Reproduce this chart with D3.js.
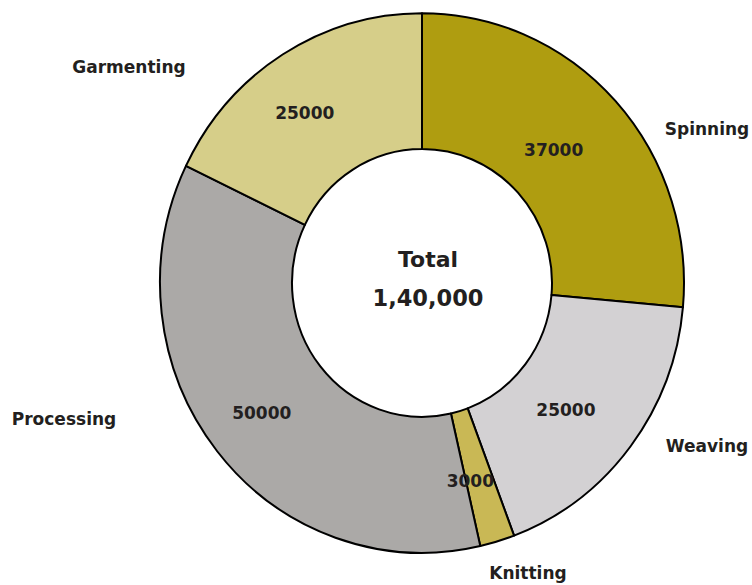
<!DOCTYPE html>
<html>
<head>
<meta charset="utf-8">
<script src="https://cdn.jsdelivr.net/npm/d3@7"></script>
<style>
  html, body { margin: 0; padding: 0; background: #ffffff; }
  svg text { font-family: "DejaVu Sans", Verdana, sans-serif; font-weight: bold; fill: #231f20; }
</style>
</head>
<body>
<svg id="chart" width="752" height="585"></svg>
<script>
// Employment by segment of the textile value chain
const categories = ["Spinning", "Weaving", "Knitting", "Processing", "Garmenting"];
const values = [37000, 25000, 3000, 50000, 25000];
const colors = ["#af9d10", "#d3d1d3", "#c9b855", "#aba9a7", "#d6ce89"];
const totalLabel = ["Total", "1,40,000"];

const W = 752, H = 585;
const cx = 422, cy = 283;
const outerR = 262, innerR = 130;
const yScale = 1.03; // the ring is slightly taller than wide

// Small hand adjustments for label placement (pixels)
const valueNudge = {
  Spinning: [-13, 3], Weaving: [-12, 5], Knitting: [-8, 5],
  Processing: [-7, 4], Garmenting: [-13, 1]
};
const nameAnchor = {
  Spinning: [707, 129], Weaving: [707, 446], Knitting: [528, 573],
  Processing: [64, 419], Garmenting: [129, 67]
};

const data = categories.map((c, i) => ({ name: c, value: values[i], color: colors[i] }));

const svg = d3.select("#chart");

const pie = d3.pie().value(d => d.value).sort(null);
const arcs = pie(data);

const arc = d3.arc().innerRadius(innerR).outerRadius(outerR);
const labelArc = d3.arc().innerRadius(196).outerRadius(196);

const ring = svg.append("g")
  .attr("transform", `translate(${cx},${cy}) scale(1,${yScale})`);

ring.selectAll("path")
  .data(arcs)
  .join("path")
  .attr("d", arc)
  .attr("fill", d => d.data.color)
  .attr("stroke", "#000")
  .attr("stroke-width", 2)
  .attr("stroke-linejoin", "round")
  .attr("vector-effect", "non-scaling-stroke");

// Value labels inside each slice
svg.append("g").selectAll("text")
  .data(arcs)
  .join("text")
  .attr("x", d => cx + labelArc.centroid(d)[0] + valueNudge[d.data.name][0])
  .attr("y", d => cy + labelArc.centroid(d)[1] * yScale + valueNudge[d.data.name][1])
  .attr("text-anchor", "middle")
  .attr("dominant-baseline", "central")
  .attr("font-size", 17)
  .text(d => d3.format("d")(d.data.value));

// Category names outside the ring
svg.append("g").selectAll("text")
  .data(arcs)
  .join("text")
  .attr("x", d => nameAnchor[d.data.name][0])
  .attr("y", d => nameAnchor[d.data.name][1])
  .attr("text-anchor", "middle")
  .attr("dominant-baseline", "central")
  .attr("font-size", 17)
  .text(d => d.data.name);

// Centre total
svg.append("text")
  .attr("x", 428).attr("y", 259)
  .attr("text-anchor", "middle").attr("dominant-baseline", "central")
  .attr("font-size", 22)
  .text(totalLabel[0]);
svg.append("text")
  .attr("x", 428).attr("y", 298)
  .attr("text-anchor", "middle").attr("dominant-baseline", "central")
  .attr("font-size", 22.5)
  .text(totalLabel[1]);
</script>
</body>
</html>
